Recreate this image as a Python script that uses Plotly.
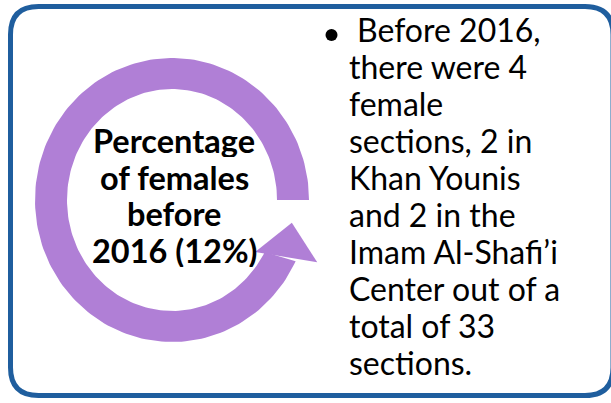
import numpy as np
import plotly.graph_objects as go

# ---- data / text content ----
female_pct = 12
female_sections = 4
khan_younis_sections = 2
imam_center_sections = 2
total_sections = 33

center_lines = ["Percentage", "of females", "before", f"2016 ({female_pct}%)"]
bullet_lines = [
    "Before 2016,",
    f"there were {female_sections}",
    "female",
    f"sections, {khan_younis_sections} in",
    "Khan Younis",
    f"and {imam_center_sections} in the",
    "Imam Al-Shafi\u2019i",
    "Center out of a",
    f"total of {total_sections}",
    "sections.",
]

W, H = 611, 403
PURPLE = "#B07FD6"
BLUE = "#1F5E9E"
FONT = "Lato"

fig = go.Figure()

# ---- circular arrow (decorative ring) ----
cx, cy = 172, 200
rxo, ryo = 137, 142
rxi, ryi = 105, 111
t_out = np.radians(np.linspace(0, 334.5, 200))
t_in = np.radians(np.linspace(332, 0, 200))
xs = np.concatenate([cx + rxo * np.cos(t_out), cx + rxi * np.cos(t_in)])
ys = np.concatenate([cy - ryo * np.sin(t_out), cy - ryi * np.sin(t_in)])
fig.add_trace(go.Scatter(x=xs, y=ys, mode="lines", fill="toself",
                         fillcolor=PURPLE, line=dict(width=0, color=PURPLE),
                         hoverinfo="skip", showlegend=False))

# arrow head (angle deg, radius) in math orientation
head = [(-32, 98), (-10.8, 122), (-23.2, 158)]
hx = [cx + r * np.cos(np.radians(a)) for a, r in head] + [cx + head[0][1] * np.cos(np.radians(head[0][0]))]
hy = [cy - r * np.sin(np.radians(a)) for a, r in head] + [cy - head[0][1] * np.sin(np.radians(head[0][0]))]
fig.add_trace(go.Scatter(x=hx, y=hy, mode="lines", fill="toself",
                         fillcolor=PURPLE, line=dict(width=0, color=PURPLE),
                         hoverinfo="skip", showlegend=False))

# bullet dot
fig.add_trace(go.Scatter(x=[331.5], y=[35], mode="markers",
                         marker=dict(size=12, color="black"),
                         hoverinfo="skip", showlegend=False))

# ---- border ----
x0, y0, x1, y1, r = 10.5, 6.5, 613, 395.5, 28
path = (f"M {x0+r},{y0} L {x1-r},{y0} Q {x1},{y0} {x1},{y0+r} "
        f"L {x1},{y1-r} Q {x1},{y1} {x1-r},{y1} L {x0+r},{y1} "
        f"Q {x0},{y1} {x0},{y1-r} L {x0},{y0+r} Q {x0},{y0} {x0+r},{y0} Z")
shapes = [dict(type="path", path=path, xref="x", yref="y",
               line=dict(color=BLUE, width=5), layer="above")]

# ---- text ----
annotations = []
for i, line in enumerate(center_lines):
    annotations.append(dict(x=174, y=140 + 36.5 * i, xref="x", yref="y",
                            text=f"<b>{line}</b>", showarrow=False,
                            xanchor="center", yanchor="middle",
                            height=34, borderpad=0,
                            font=dict(family=FONT, size=32.5, color="black")))
for i, line in enumerate(bullet_lines):
    annotations.append(dict(x=(356 if i == 0 else 348), y=29.5 + 37 * i,
                            xref="x", yref="y", text=line, showarrow=False,
                            xanchor="left", yanchor="middle",
                            height=35, borderpad=0,
                            font=dict(family=FONT, size=32, color="black")))

fig.update_layout(
    width=W, height=H, margin=dict(l=0, r=0, t=0, b=0),
    paper_bgcolor="white", plot_bgcolor="white",
    xaxis=dict(range=[0, W], visible=False, fixedrange=True),
    yaxis=dict(range=[H, 0], visible=False, fixedrange=True),
    shapes=shapes, annotations=annotations, showlegend=False,
)
fig.write_html("out.html", config={"displayModeBar": False},
               post_script="document.body.style.margin='0';document.body.style.overflow='hidden';")
